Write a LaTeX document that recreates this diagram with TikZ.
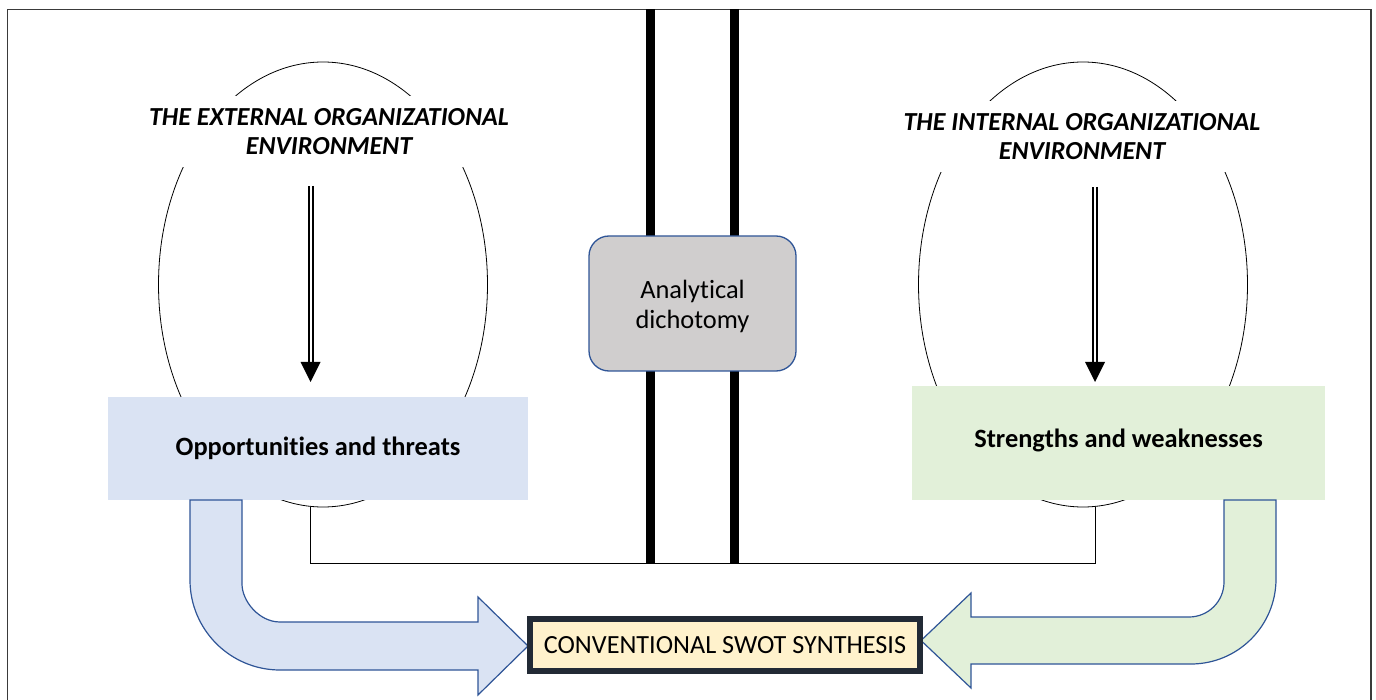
\documentclass[tikz,border=0pt]{standalone}
\usepackage{fontspec}
\setmainfont{Carlito}[Ligatures=NoCommon]
\usetikzlibrary{shapes.geometric}
\definecolor{bluefill}{HTML}{DAE3F3}
\definecolor{blueline}{HTML}{2F5597}
\definecolor{greenfill}{HTML}{E2F0D9}
\definecolor{grayfill}{HTML}{D0CECE}
\definecolor{swotfill}{HTML}{FFF2CC}
\definecolor{swotline}{HTML}{222A35}
\definecolor{framecol}{HTML}{3A3A3A}
\begin{document}
\begin{tikzpicture}[x=1pt,y=-1pt,
  framestyle/.style={draw=framecol,line width=1.4pt},
  thickbar/.style={line width=8.5pt,black},
  envell/.style={ellipse,draw,line width=0.8pt,inner sep=0pt,minimum width=329pt,minimum height=445pt},
  titlebox/.style={fill=white,align=center,inner xsep=3pt,inner ysep=0pt,minimum height=71pt,
    font=\fontsize{26}{29}\selectfont\bfseries\itshape},
  dblarrow/.style={draw=black,double=white,double distance=2pt,line width=2pt},
  tiphead/.style={fill=black},
  linkline/.style={draw=black,line width=1pt},
  resultbox/.style={inner sep=0pt,font=\fontsize{26.4}{30}\selectfont\bfseries},
  graybox/.style={draw=blueline,line width=1.3pt,fill=grayfill,rounded corners=20pt,
    minimum width=207pt,minimum height=135pt,align=center,font=\fontsize{26.4}{30}\selectfont},
  bentarrow/.style={draw=blueline,line width=1.2pt},
  swotbox/.style={draw=swotline,line width=6pt,fill=swotfill,minimum width=390pt,minimum height=52pt,
    inner sep=0pt,font=\fontsize{26.2}{30}\selectfont}
]
\useasboundingbox (0,0) rectangle (1376,700);

% frame
\draw[framestyle] (7.5,705) -- (7.5,9.5) -- (1371,9.5) -- (1371,705);

% thick dichotomy bars
\draw[thickbar] (650.5,9.5) -- (650.5,563);
\draw[thickbar] (734.5,9.5) -- (734.5,563);

% ellipses
\node[envell] (ellL) at (323,284.5) {};
\node[envell] (ellR) at (1083,284.5) {};

% titles
\node[titlebox] (titleL) at (329,131.5) {THE EXTERNAL ORGANIZATIONAL\\ENVIRONMENT};
\node[titlebox] (titleR) at (1082,137) {THE INTERNAL ORGANIZATIONAL\\ENVIRONMENT};

% double arrows
\coordinate (aL1) at (310.5,186);
\coordinate (aL2) at (310.5,364);
\coordinate (aR1) at (1095,187);
\coordinate (aR2) at (1095,364);
\draw[dblarrow] (aL1) -- (aL2);
\draw[dblarrow] (aR1) -- (aR2);
\fill[tiphead] (300.5,362) -- (320.5,362) -- (310.5,382) -- cycle;
\fill[tiphead] (1085,362) -- (1105,362) -- (1095,382) -- cycle;

% connector between the two environments
\coordinate (cL) at (310.5,507);
\coordinate (cR) at (1095,507);
\draw[linkline] (cL) -- ++(0,56) -| (cR);

% result boxes
\node[resultbox,fill=bluefill,minimum width=420pt,minimum height=103pt] (ot) at (318,448.5) {Opportunities and threats};
\node[resultbox,fill=greenfill,minimum width=413pt,minimum height=114pt] (sw) at (1118.5,443) {\raisebox{10pt}{Strengths and weaknesses}};

% analytical dichotomy
\node[graybox] (ad) at (692.5,303.5) {\raisebox{-10.5pt}[0pt][0pt]{\begin{tabular}{@{}c@{}}Analytical\\dichotomy\end{tabular}}};

% bent block arrows
\draw[bentarrow,fill=bluefill] (190,500) -- (190,580) .. controls (190,629.7) and (230.3,670) .. (280,670)
  -- (478,670) -- (478,695) -- (528,646) -- (478,597) -- (478,622) -- (280,622)
  .. controls (259,622) and (242,601) .. (242,584) -- (242,500) -- cycle;
\draw[bentarrow,fill=greenfill] (1276,500) -- (1276,579) .. controls (1276,625.9) and (1237.9,664) .. (1191,664)
  -- (971,664) -- (971,688) -- (921,640.5) -- (971,593) -- (971,617) -- (1189,617)
  .. controls (1208.3,617) and (1224,601.3) .. (1224,582) -- (1224,500) -- cycle;

% synthesis
\node[swotbox] (swot) at (725,645) {CONVENTIONAL SWOT SYNTHESIS};
\end{tikzpicture}
\end{document}
